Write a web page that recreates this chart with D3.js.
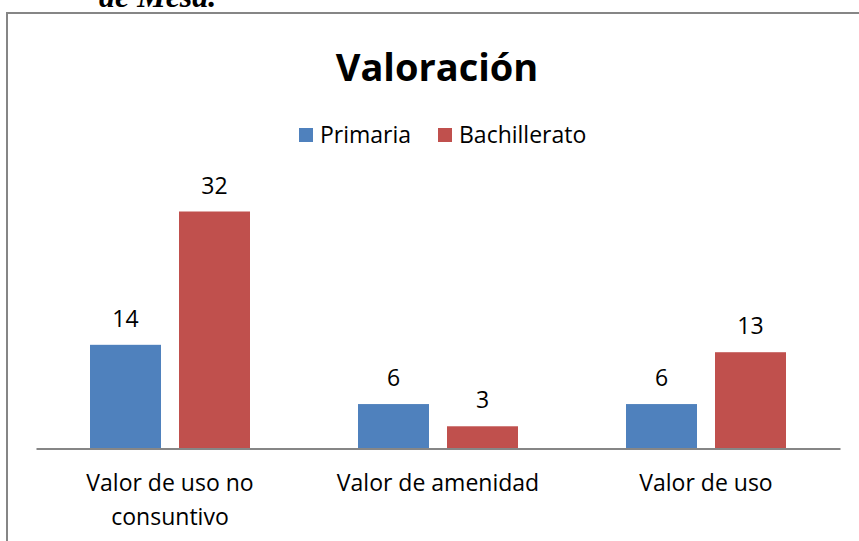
<!DOCTYPE html>
<html><head><meta charset="utf-8">
<script src="https://cdn.jsdelivr.net/npm/d3@7"></script>
<style>
html,body{margin:0;padding:0;background:#fff;}
svg{display:block;}
</style></head>
<body>
<script>
const categories = [["Valor de uso no","consuntivo"],["Valor de amenidad"],["Valor de uso"]];
const seriesNames = ["Primaria","Bachillerato"];
const primaria = [14, 6, 6];
const bachillerato = [32, 3, 13];
const colors = ["#4f81bd","#c0504d"];
const title = "Valoración";

const W = 859, H = 541;
const font = "'Open Sans', sans-serif";
const svg = d3.select("body").append("svg").attr("width", W).attr("height", H);

// caption fragment above the chart frame
svg.append("text").attr("x", 99).attr("y", 7)
  .attr("font-family", "'Liberation Serif', 'Times New Roman', serif")
  .attr("font-style","italic").attr("font-weight","bold").attr("font-size", 32)
  .attr("fill","#000").text("de Mesa.");

// frame
svg.append("rect").attr("x", 7).attr("y", 13).attr("width", 870).attr("height", 560)
  .attr("fill","none").attr("stroke","#868686").attr("stroke-width",2);

const x0 = d3.scaleBand().domain(d3.range(categories.length)).range([36, 840]);
const y = d3.scaleLinear().domain([0, 32]).range([448.5, 211.5]);
const barW = 71, gap = 18;

const data = [primaria, bachillerato];
data.forEach((vals, s) => {
  const g = svg.append("g");
  g.selectAll("rect").data(vals).join("rect")
    .attr("x", (d,i) => x0(i) + x0.bandwidth()/2 + (s === 0 ? -gap/2 - barW : gap/2))
    .attr("y", d => y(d))
    .attr("width", barW)
    .attr("height", d => y(0) - y(d))
    .attr("fill", colors[s]);
  g.selectAll("text").data(vals).join("text")
    .attr("x", (d,i) => x0(i) + x0.bandwidth()/2 + (s === 0 ? -gap/2 - barW/2 : gap/2 + barW/2))
    .attr("y", d => y(d) - 18)
    .attr("text-anchor","middle")
    .attr("font-family", font).attr("font-size", 23).attr("fill","#000")
    .text(d => d);
});

// axis
const axis = d3.axisBottom(x0).tickSize(0).tickFormat("");
const ax = svg.append("g").attr("transform", `translate(0,${y(0)})`).call(axis);
ax.select(".domain").attr("stroke","#868686").attr("stroke-width",2);

// category labels
categories.forEach((lines, i) => {
  const t = svg.append("text").attr("text-anchor","middle")
    .attr("font-family", font).attr("font-size", 23).attr("fill","#000");
  lines.forEach((ln, k) => {
    t.append("tspan").attr("x", x0(i) + x0.bandwidth()/2).attr("y", 491 + k*34).text(ln);
  });
});

// title
svg.append("text").attr("x", 437).attr("y", 81).attr("text-anchor","middle")
  .attr("font-family", font).attr("font-weight","bold").attr("font-size", 38).attr("fill","#000")
  .text(title);

// legend
const legendX = [299, 438];
seriesNames.forEach((n, s) => {
  svg.append("rect").attr("x", legendX[s]).attr("y", 128).attr("width", 14).attr("height", 14).attr("fill", colors[s]);
  svg.append("text").attr("x", legendX[s] + 21).attr("y", 143)
    .attr("font-family", font).attr("font-size", 23).attr("fill","#000").text(n);
});
</script>
</body></html>
